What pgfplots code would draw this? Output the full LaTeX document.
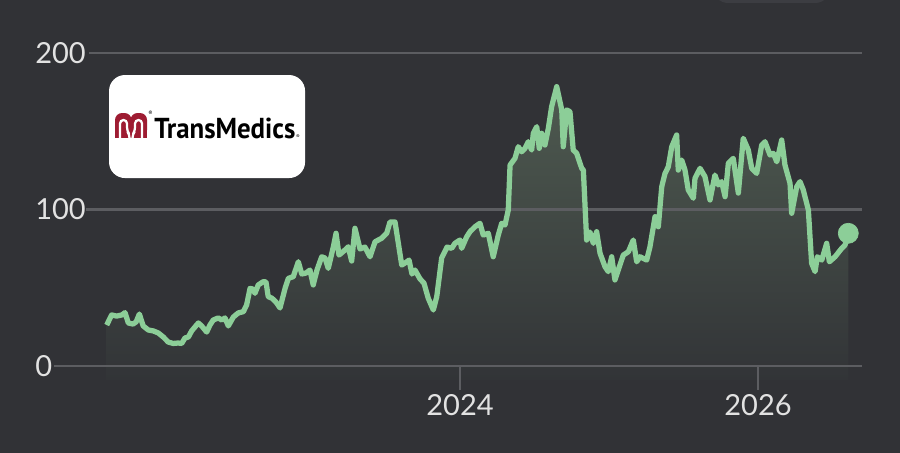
\documentclass[border=0pt]{standalone}
\usepackage{pgfplots}
\pgfplotsset{compat=1.18}
\usepackage{pgfplotstable}
\usepackage{fontspec}
\setmainfont{Lato}
\newfontfamily\logofont{PT Sans}
\definecolor{bgc}{RGB}{49,50,54}
\definecolor{gridc}{RGB}{92,93,97}
\definecolor{linec}{RGB}{140,206,152}
\definecolor{filltop}{RGB}{78,90,80}
\definecolor{fillbot}{RGB}{50,52,55}
\definecolor{txtc}{RGB}{226,226,226}
\definecolor{logored}{RGB}{158,28,50}
\definecolor{pillc}{RGB}{60,61,66}

\pgfplotstableread{
x y
2021.629 26.2
2021.662 32.6
2021.696 31.9
2021.730 32.6
2021.752 34.1
2021.774 27.5
2021.805 26.8
2021.826 28.1
2021.848 33.2
2021.874 25.6
2021.908 23.0
2021.942 22.4
2021.975 21.1
2022.009 18.5
2022.042 15.3
2022.076 14.4
2022.109 14.7
2022.132 14.4
2022.154 17.9
2022.177 18.5
2022.199 22.4
2022.221 24.9
2022.244 27.5
2022.266 25.6
2022.300 21.7
2022.322 26.2
2022.344 29.4
2022.378 30.7
2022.401 29.4
2022.423 30.7
2022.445 25.6
2022.479 31.3
2022.512 33.9
2022.546 34.7
2022.568 39.0
2022.591 49.6
2022.609 49.2
2022.624 46.5
2022.646 51.8
2022.680 53.9
2022.698 53.7
2022.713 44.3
2022.738 43.3
2022.765 40.9
2022.792 37.1
2022.826 49.6
2022.848 56.0
2022.881 57.1
2022.915 66.6
2022.938 58.8
2022.966 59.4
2022.993 61.3
2023.015 51.8
2023.040 61.3
2023.072 69.8
2023.094 69.0
2023.116 62.4
2023.150 76.2
2023.168 84.8
2023.188 70.9
2023.228 74.1
2023.250 76.2
2023.273 67.1
2023.295 88.0
2023.329 74.8
2023.362 76.0
2023.396 69.8
2023.430 79.4
2023.474 81.6
2023.508 84.8
2023.530 92.0
2023.564 92.0
2023.609 64.5
2023.642 66.5
2023.658 67.7
2023.678 58.8
2023.698 61.3
2023.732 55.6
2023.758 53.0
2023.787 43.3
2023.821 35.8
2023.844 44.3
2023.877 69.0
2023.913 76.0
2023.944 75.2
2023.966 78.4
2024.000 80.5
2024.011 75.2
2024.045 82.6
2024.067 85.8
2024.101 89.0
2024.134 91.2
2024.156 83.7
2024.190 84.8
2024.223 69.8
2024.257 83.7
2024.280 91.2
2024.302 90.1
2024.324 99.7
2024.336 128.4
2024.369 132.7
2024.391 140.1
2024.414 136.9
2024.436 139.1
2024.458 143.3
2024.481 138.0
2024.492 148.7
2024.515 152.9
2024.532 139.1
2024.548 148.7
2024.570 141.2
2024.593 151.9
2024.615 165.7
2024.649 178.5
2024.683 163.6
2024.693 140.1
2024.716 163.6
2024.738 162.5
2024.760 138.0
2024.783 135.9
2024.817 126.3
2024.828 125.2
2024.850 80.5
2024.872 85.6
2024.895 78.4
2024.917 85.8
2024.940 72.0
2024.973 63.5
2024.995 60.3
2025.018 69.8
2025.040 55.0
2025.062 61.3
2025.096 70.9
2025.130 73.0
2025.163 80.5
2025.186 66.6
2025.208 69.8
2025.253 67.7
2025.275 76.2
2025.309 95.4
2025.331 89.0
2025.354 114.6
2025.376 123.1
2025.398 127.3
2025.421 140.1
2025.454 147.6
2025.465 125.2
2025.488 131.6
2025.510 125.2
2025.532 112.5
2025.566 107.2
2025.577 119.9
2025.611 126.3
2025.644 121.0
2025.678 106.1
2025.711 122.0
2025.734 115.7
2025.756 117.8
2025.779 108.2
2025.801 129.5
2025.834 132.7
2025.868 110.5
2025.901 145.5
2025.935 138.0
2025.958 126.3
2025.991 123.1
2026.025 141.2
2026.047 143.3
2026.081 134.8
2026.103 135.9
2026.126 130.5
2026.159 144.4
2026.181 128.4
2026.215 116.7
2026.226 97.6
2026.260 114.6
2026.282 117.8
2026.304 112.5
2026.338 99.7
2026.360 65.6
2026.383 60.3
2026.398 69.8
2026.428 67.7
2026.461 78.4
2026.479 66.6
2026.517 69.8
2026.562 75.2
2026.584 77.3
2026.606 84.8
}\stock

\begin{document}
\begin{tikzpicture}
\useasboundingbox (0,0) rectangle (18cm,9.06cm);
\fill[bgc] (0,0) rectangle (18cm,9.06cm);
\begin{axis}[
  at={(0,0)}, anchor=south west,
  scale only axis, width=18cm, height=9.06cm,
  xmin=2020.9128, xmax=2026.9530, ymin=-55.59, ymax=233.87,
  axis line style={draw=none}, major tick length=0pt,
  xtick={2024,2026}, xticklabels={2024,2026},
  ytick={0,100,200}, yticklabels={0,100,200},
  tick label style={font=\fontsize{16.5}{20}\selectfont, text=txtc, inner sep=0pt},
  xticklabel style={anchor=base, yshift=0.74cm},
  yticklabel style={anchor=west, xshift=0.70cm},
  clip=false,
  /pgf/number format/assume math mode=true,
]
% area
\addplot[draw=none, top color=filltop, bottom color=fillbot] table[x=x,y=y] {\stock}
  -- (axis cs:2026.606,-9) -- (axis cs:2021.629,-9) -- cycle;
% grid lines and tick marks
\draw[gridc, line width=1.5pt] (axis cs:2021.510,200) -- (axis cs:2026.698,200);
\draw[gridc, line width=1.5pt] (axis cs:2021.490,100) -- (axis cs:2026.698,100);
\draw[gridc, line width=1.5pt] (axis cs:2021.275,0) -- (axis cs:2026.698,0);
\draw[gridc, line width=1.4pt] (axis cs:2024,0) -- (axis cs:2024,-15.3);
\draw[gridc, line width=1.4pt] (axis cs:2026,0) -- (axis cs:2026,-15.3);
% line
\addplot[linec, line width=3pt, line join=round, mark=none] table[x=x,y=y] {\stock};
\addplot[linec, only marks, mark=*, mark size=5.7pt] coordinates {(2026.606,84.8)};
\end{axis}
\begin{scope}[x=0.02cm, y=-0.02cm, shift={(0cm,9.06cm)}]
  \fill[pillc, rounded corners=0.3cm] (713,-30) rectangle (830,3);
  % logo card
  \fill[white, rounded corners=0.32cm] (109,75) rectangle (305,178);
  % icon
  \fill[logored, rounded corners=0.14cm] (115,113) rectangle (131.5,137);
  \fill[logored] (115,128) rectangle (131.5,137.5);
  \fill[logored, rounded corners=0.14cm] (130.5,113) rectangle (147,137);
  \fill[logored] (130.5,128) rectangle (147,137.5);
  \draw[white, line width=0.045cm, rounded corners=0.07cm]
     (120,138) -- (120,120) -- (127,120) -- (127,131) -- (129.5,134.5) -- (129.5,138);
  \draw[white, line width=0.045cm, rounded corners=0.07cm]
     (142,138) -- (142,120) -- (135,120) -- (135,131) -- (132.5,134.5) -- (132.5,138);
  \node[anchor=center, inner sep=0pt, text=black, font=\logofont\fontsize{3.5}{4}\selectfont] at (150.5,113.5) {®};
  \node[anchor=base west, inner sep=0pt, text=black] at (154,138.3)
     {\resizebox{2.82cm}{0.41cm}{\logofont\bfseries TransMedics}};
  \node[anchor=center, inner sep=0pt, text=black, font=\logofont\fontsize{3}{4}\selectfont] at (298,136.5) {®};
\end{scope}
\end{tikzpicture}
\end{document}
